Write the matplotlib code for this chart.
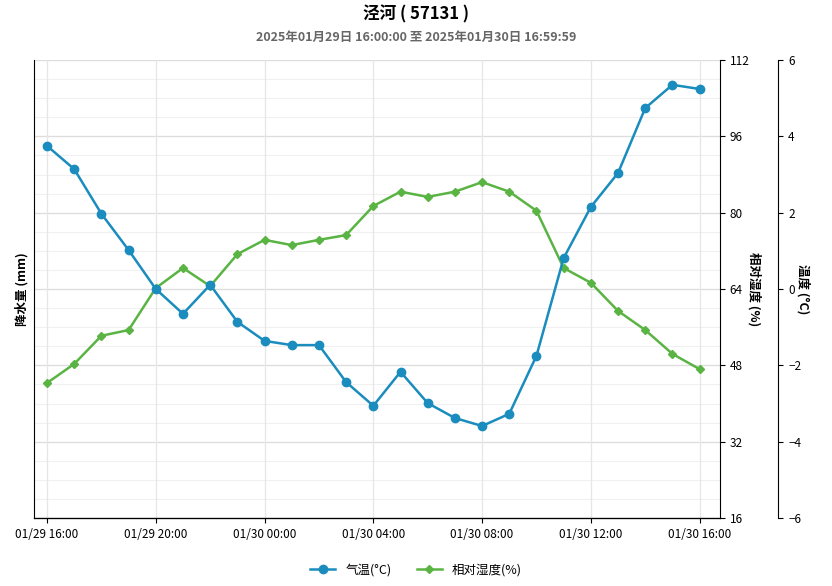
import matplotlib
matplotlib.use("Agg")
import matplotlib.pyplot as plt
from matplotlib import font_manager
import numpy as np

names = {f.name for f in font_manager.fontManager.ttflist}
cjk = [n for n in ["Noto Sans CJK SC", "Noto Sans CJK JP", "Noto Sans CJK TC", "Noto Sans CJK KR"] if n in names]
plt.rcParams['font.family'] = (cjk[:1] if cjk else []) + ['DejaVu Sans']

hours = list(range(25))
x_ticks = [0, 4, 8, 12, 16, 20, 24]
x_labels = ["01/29 16:00", "01/29 20:00", "01/30 00:00", "01/30 04:00", "01/30 08:00", "01/30 12:00", "01/30 16:00"]
temperature = [3.75, 3.14, 1.97, 1.02, 0.0, -0.65, 0.11, -0.86, -1.36, -1.47, -1.47, -2.44, -3.06,
               -2.17, -2.99, -3.38, -3.59, -3.27, -1.75, 0.81, 2.15, 3.04, 4.74, 5.35, 5.24]
humidity = [44.3, 48.3, 54.2, 55.4, 64.2, 68.4, 64.6, 71.3, 74.3, 73.2, 74.3, 75.3, 81.4, 84.4,
            83.3, 84.4, 86.4, 84.4, 80.4, 68.4, 65.3, 59.4, 55.4, 50.4, 47.2]
hum_ticks = [16, 32, 48, 64, 80, 96, 112]
temp_ticks = [-6, -4, -2, 0, 2, 4, 6]

fig = plt.figure(figsize=(8.32, 5.86), dpi=100)
ax = fig.add_axes([34/832, 1-518/586, (720-34)/832, 458/586])
ax.set_xlim(-0.48, 24.75)
ax.set_yticks([])
ax.set_ylim(16, 112)
ax.set_ylabel("降水量 (mm)", fontsize=9, fontweight='bold')
ax.set_xticks(x_ticks)
ax.set_xticklabels(x_labels, fontsize=8.5)
for y in np.arange(16, 113, 4):
    ax.axhline(y, color='#f0f0f0', lw=0.8, zorder=0)
for y in hum_ticks:
    ax.axhline(y, color='#dddddd', lw=0.9, zorder=0)
for xx in x_ticks:
    ax.axvline(xx, color='#e6e6e6', lw=0.9, zorder=0)
for s in ['top', 'right']:
    ax.spines[s].set_visible(False)

axh = ax.twinx()
axh.set_ylim(16, 112)
axh.set_yticks(hum_ticks)
axh.tick_params(labelsize=8.5)
axh.set_ylabel("相对湿度 (%)", fontsize=9, fontweight='bold', rotation=270, labelpad=8)
axh.spines['top'].set_visible(False)
axh.spines['left'].set_visible(False)

axt = ax.twinx()
axt.spines['right'].set_position(('outward', 42))
axt.set_ylim(-6, 6)
axt.set_yticks(temp_ticks)
axt.tick_params(labelsize=8.5)
axt.set_ylabel("温度 (°C)", fontsize=9, fontweight='bold', rotation=270, labelpad=6)
axt.spines['top'].set_visible(False)
axt.spines['left'].set_visible(False)

l1, = axt.plot(hours, temperature, color='#1a8cbd', lw=1.8, marker='o', ms=6, label='气温(°C)')
l2, = axh.plot(hours, humidity, color='#5ab443', lw=1.8, marker='D', ms=4.5, label='相对湿度(%)')

fig.legend(handles=[l1, l2], loc='center', bbox_to_anchor=(0.5, 1-570/586), ncol=2, frameon=False, fontsize=9)
fig.text(0.5, 1-14/586, "泾河 ( 57131 )", ha='center', va='center', fontsize=12, fontweight='bold')
fig.text(0.5, 1-37/586, "2025年01月29日 16:00:00 至 2025年01月30日 16:59:59", ha='center', va='center', fontsize=9, color='#666666', fontweight='bold')
fig.savefig("out.png", dpi=100)
